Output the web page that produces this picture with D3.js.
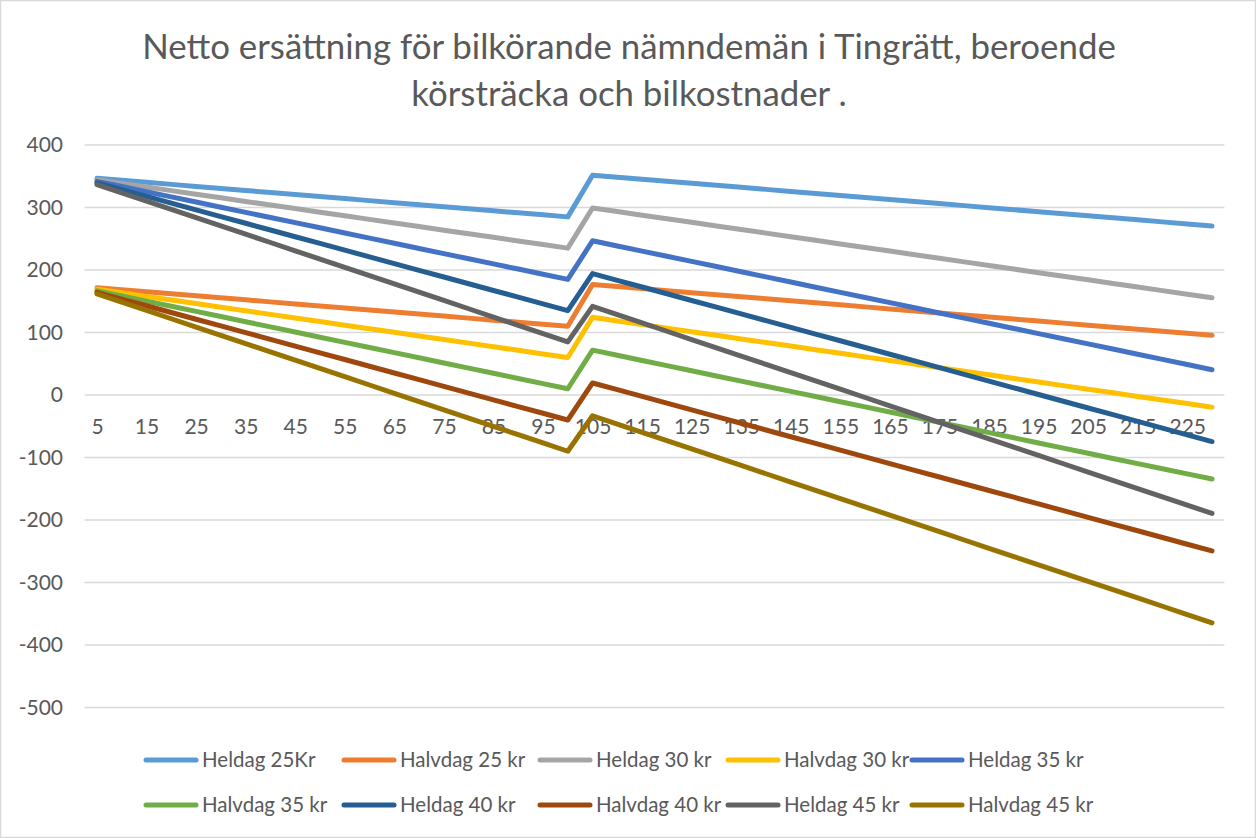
<!DOCTYPE html>
<html><head><meta charset="utf-8">
<script src="https://cdn.jsdelivr.net/npm/d3@7"></script>
<style>
html,body{margin:0;padding:0;background:#fff;}
svg text{font-family:Lato,"Open Sans",sans-serif;fill:#595959;}
</style></head>
<body><svg id="c" width="1256" height="838"></svg>
<script>
const titleLines = ["Netto ersättning för bilkörande nämndemän i Tingrätt, beroende", "körsträcka och bilkostnader ."];
const km = [5,10,15,20,25,30,35,40,45,50,55,60,65,70,75,80,85,90,95,100,105,110,115,120,125,130,135,140,145,150,155,160,165,170,175,180,185,190,195,200,205,210,215,220,225,230];
const yTicks = [400,300,200,100,0,-100,-200,-300,-400,-500];
const seriesNames = ["Heldag 25Kr","Halvdag 25 kr","Heldag 30 kr","Halvdag 30 kr","Heldag 35 kr","Halvdag 35 kr","Heldag 40 kr","Halvdag 40 kr","Heldag 45 kr","Halvdag 45 kr"];
const seriesColors = ["#5B9BD5","#ED7D31","#A5A5A5","#FFC000","#4472C4","#70AD47","#255E91","#9E480E","#636363","#997300"];

const heldag25 = [346.75,343.5,340.25,337,333.75,330.5,327.25,324,320.75,317.5,314.25,311,307.75,304.5,301.25,298,294.75,291.5,288.25,285,
 351.75,348.5,345.25,342,338.75,335.5,332.25,329,325.75,322.5,319.25,316,312.75,309.5,306.25,303,299.75,296.5,293.25,290,286.75,283.5,280.25,277,273.75,270.5];
const halvdag25 = [171.75,168.5,165.25,162,158.75,155.5,152.25,149,145.75,142.5,139.25,136,132.75,129.5,126.25,123,119.75,116.5,113.25,110,
 176.75,173.5,170.25,167,163.75,160.5,157.25,154,150.75,147.5,144.25,141,137.75,134.5,131.25,128,124.75,121.5,118.25,115,111.75,108.5,105.25,102,98.75,95.5];
const heldag30 = [344.25,338.5,332.75,327,321.25,315.5,309.75,304,298.25,292.5,286.75,281,275.25,269.5,263.75,258,252.25,246.5,240.75,235,
 299.25,293.5,287.75,282,276.25,270.5,264.75,259,253.25,247.5,241.75,236,230.25,224.5,218.75,213,207.25,201.5,195.75,190,184.25,178.5,172.75,167,161.25,155.5];
const halvdag30 = [169.25,163.5,157.75,152,146.25,140.5,134.75,129,123.25,117.5,111.75,106,100.25,94.5,88.75,83,77.25,71.5,65.75,60,
 124.25,118.5,112.75,107,101.25,95.5,89.75,84,78.25,72.5,66.75,61,55.25,49.5,43.75,38,32.25,26.5,20.75,15,9.25,3.5,-2.25,-8,-13.75,-19.5];
const heldag35 = [341.75,333.5,325.25,317,308.75,300.5,292.25,284,275.75,267.5,259.25,251,242.75,234.5,226.25,218,209.75,201.5,193.25,185,
 246.75,238.5,230.25,222,213.75,205.5,197.25,189,180.75,172.5,164.25,156,147.75,139.5,131.25,123,114.75,106.5,98.25,90,81.75,73.5,65.25,57,48.75,40.5];
const halvdag35 = [166.75,158.5,150.25,142,133.75,125.5,117.25,109,100.75,92.5,84.25,76,67.75,59.5,51.25,43,34.75,26.5,18.25,10,
 71.75,63.5,55.25,47,38.75,30.5,22.25,14,5.75,-2.5,-10.75,-19,-27.25,-35.5,-43.75,-52,-60.25,-68.5,-76.75,-85,-93.25,-101.5,-109.75,-118,-126.25,-134.5];
const heldag40 = [339.25,328.5,317.75,307,296.25,285.5,274.75,264,253.25,242.5,231.75,221,210.25,199.5,188.75,178,167.25,156.5,145.75,135,
 194.25,183.5,172.75,162,151.25,140.5,129.75,119,108.25,97.5,86.75,76,65.25,54.5,43.75,33,22.25,11.5,0.75,-10,-20.75,-31.5,-42.25,-53,-63.75,-74.5];
const halvdag40 = [164.25,153.5,142.75,132,121.25,110.5,99.75,89,78.25,67.5,56.75,46,35.25,24.5,13.75,3,-7.75,-18.5,-29.25,-40,
 19.25,8.5,-2.25,-13,-23.75,-34.5,-45.25,-56,-66.75,-77.5,-88.25,-99,-109.75,-120.5,-131.25,-142,-152.75,-163.5,-174.25,-185,-195.75,-206.5,-217.25,-228,-238.75,-249.5];
const heldag45 = [336.75,323.5,310.25,297,283.75,270.5,257.25,244,230.75,217.5,204.25,191,177.75,164.5,151.25,138,124.75,111.5,98.25,85,
 141.75,128.5,115.25,102,88.75,75.5,62.25,49,35.75,22.5,9.25,-4,-17.25,-30.5,-43.75,-57,-70.25,-83.5,-96.75,-110,-123.25,-136.5,-149.75,-163,-176.25,-189.5];
const halvdag45 = [161.75,148.5,135.25,122,108.75,95.5,82.25,69,55.75,42.5,29.25,16,2.75,-10.5,-23.75,-37,-50.25,-63.5,-76.75,-90,
 -33.25,-46.5,-59.75,-73,-86.25,-99.5,-112.75,-126,-139.25,-152.5,-165.75,-179,-192.25,-205.5,-218.75,-232,-245.25,-258.5,-271.75,-285,-298.25,-311.5,-324.75,-338,-351.25,-364.5];

const seriesValues = [heldag25,halvdag25,heldag30,halvdag30,heldag35,halvdag35,heldag40,halvdag40,heldag45,halvdag45];

const W = 1256, H = 838;
const svg = d3.select("#c");
svg.append("rect").attr("x",0.5).attr("y",0.5).attr("width",W-1).attr("height",H-1)
  .attr("fill","#fff").attr("stroke","#d9d9d9").attr("stroke-width",1.5);

// Title
const tg = svg.append("g");
const t1 = tg.append("text").attr("x",629).attr("y",59).attr("text-anchor","middle")
  .style("font-size","30px").text(titleLines[0]);
const w1 = t1.node().getComputedTextLength();
const tSize = 30 * 974 / w1;
t1.style("font-size", tSize + "px");
tg.append("text").attr("x",629).attr("y",106).attr("text-anchor","middle")
  .style("font-size", tSize + "px").text(titleLines[1]);

const x = d3.scalePoint().domain(km).range([84.6, 1224.4]).padding(0.5);
const y = d3.scaleLinear().domain([-500, 400]).range([707.5, 145]);

// Gridlines
svg.append("g").selectAll("line").data(yTicks).join("line")
  .attr("x1",84.6).attr("x2",1224.4)
  .attr("y1",d=>y(d)).attr("y2",d=>y(d))
  .attr("stroke","#d9d9d9").attr("stroke-width",1.3);

// Y axis labels
const yAxis = d3.axisLeft(y).tickValues(yTicks).tickFormat(d=>String(d)).tickSize(0).tickPadding(0);
const yg = svg.append("g").attr("transform","translate(63,0)").call(yAxis);
yg.select(".domain").remove();
yg.selectAll("text").style("font-size","21px").style("font-family","Lato").attr("fill","#595959");

// X axis labels (every other category)
const xAxis = d3.axisBottom(x).tickValues(km.filter((d,i)=>i%2===0)).tickFormat(d=>String(d)).tickSize(0).tickPadding(0);
const xg = svg.append("g").attr("transform",`translate(0,${y(0)+28})`).call(xAxis);
xg.select(".domain").remove();
xg.selectAll("text").style("font-size","21px").style("font-family","Lato").attr("fill","#595959").attr("dy","0.5em");

// Lines
const line = d3.line().x((d,i)=>x(km[i])).y(d=>y(d));
svg.append("g").selectAll("path").data(seriesValues).join("path")
  .attr("d", d=>line(d))
  .attr("fill","none")
  .attr("stroke",(d,i)=>seriesColors[i])
  .attr("stroke-width",5)
  .attr("stroke-linejoin","round")
  .attr("stroke-linecap","round");

// Legend
const colX = [144, 342, 538, 726, 910];
const rowY = [760, 805];
const lg = svg.append("g").selectAll("g").data(seriesNames).join("g")
  .attr("transform",(d,i)=>`translate(${colX[i%5]},${rowY[Math.floor(i/5)]})`);
lg.append("line").attr("x1",2).attr("x2",52).attr("y1",0).attr("y2",0)
  .attr("stroke",(d,i)=>seriesColors[i]).attr("stroke-width",5).attr("stroke-linecap","round");
lg.append("text").attr("x",58).attr("y",0).attr("dy","0.35em")
  .style("font-size","20.5px").text(d=>d);
</script></body></html>
